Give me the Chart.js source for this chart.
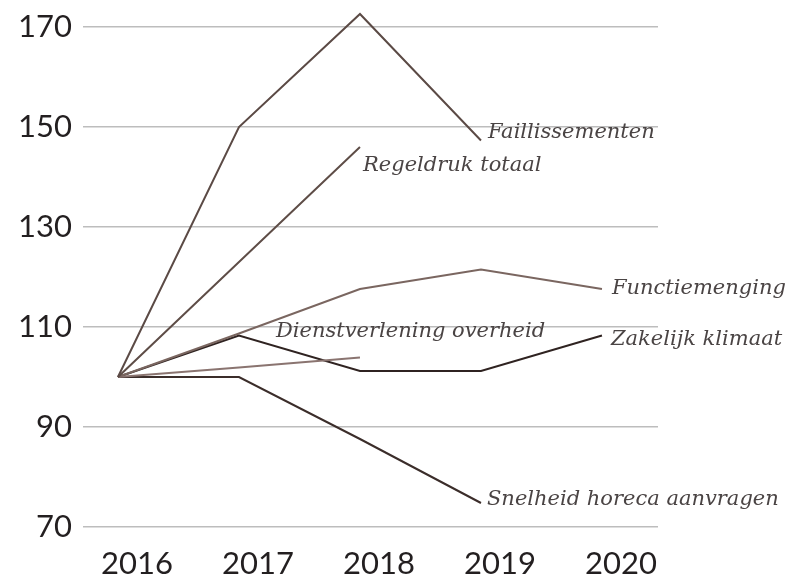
<!DOCTYPE html>
<html>
<head>
<meta charset="utf-8">
<script src="https://cdn.jsdelivr.net/npm/chart.js@4.4.1/dist/chart.umd.min.js"></script>
<style>
  html, body { margin: 0; padding: 0; background: #fff; }
  #wrap { width: 805px; height: 581px; }
</style>
</head>
<body>
<div id="wrap"><canvas id="chart" width="805" height="581"></canvas></div>
<script>
"use strict";

// Years on the x axis
const years = [2016, 2017, 2018, 2019, 2020];

// Y axis tick values
const yTicks = [70, 90, 110, 130, 150, 170];

// Index values per series (null = no data)
const faillissementen = [100, 150, 172.6, 147.3, null];
const regeldrukTotaal = [100, 123, 146, null, null];
const functiemenging = [100, 108.7, 117.6, 121.5, 117.6];
const dienstverlening = [100, 101.9, 103.9, null, null];
const zakelijkKlimaat = [100, 108.3, 101.2, 101.2, 108.3];
const snelheidHoreca = [100, 100, 87.6, 74.8, null];

const seriesNames = [
  "Faillissementen",
  "Regeldruk totaal",
  "Functiemenging",
  "Dienstverlening overheid",
  "Zakelijk klimaat",
  "Snelheid horeca aanvragen",
];
const seriesValues = [
  faillissementen,
  regeldrukTotaal,
  functiemenging,
  dienstverlening,
  zakelijkKlimaat,
  snelheidHoreca,
];

// Styling per series: line colour and label offset from the last point
const seriesStyle = [
  { color: "#5b4a45", dx: 7, dy: -8 },
  { color: "#5e4d47", dx: 3, dy: 19 },
  { color: "#7a6660", dx: 10, dy: 0 },
  { color: "#8a7470", dx: -84, dy: -26 },
  { color: "#2f2321", dx: 9, dy: 4 },
  { color: "#3b2d2a", dx: 6, dy: -3 },
];

// Draw series names next to the last point of each line
const endLabels = {
  id: "endLabels",
  afterDatasetsDraw(chart) {
    const ctx = chart.ctx;
    ctx.save();
    ctx.font = "italic 21px 'DejaVu Serif'";
    ctx.fillStyle = "#4a4444";
    ctx.textAlign = "left";
    ctx.textBaseline = "middle";
    chart.data.datasets.forEach((ds, i) => {
      const meta = chart.getDatasetMeta(i);
      let last = -1;
      ds.data.forEach((p, j) => {
        if (p.y != null) last = j;
      });
      if (last < 0) return;
      const pt = meta.data[last];
      const st = seriesStyle[i];
      ctx.fillText(ds.label, pt.x + st.dx, pt.y + st.dy);
    });
    ctx.restore();
  },
};

const datasets = seriesNames.map((name, i) => ({
  label: name,
  data: years.map((yr, j) => ({ x: yr, y: seriesValues[i][j] })),
  borderColor: seriesStyle[i].color,
  backgroundColor: "transparent",
  borderWidth: 2,
  pointRadius: 0,
  tension: 0,
  spanGaps: false,
}));

new Chart(document.getElementById("chart"), {
  type: "line",
  data: { datasets },
  plugins: [endLabels],
  options: {
    responsive: false,
    animation: false,
    layout: { padding: { top: 2, right: 147, left: 0, bottom: 0 } },
    plugins: {
      legend: { display: false },
      tooltip: { enabled: false },
    },
    scales: {
      x: {
        type: "linear",
        min: 2015.711,
        max: 2020.463,
        afterBuildTicks: (scale) => {
          scale.ticks = years.map((v) => ({ value: v }));
        },
        afterFit: (scale) => {
          scale.height = 54;
          scale.paddingLeft = 0;
          scale.paddingRight = 0;
        },
        grid: { display: false, drawTicks: false },
        border: { display: false },
        ticks: {
          padding: 18,
          labelOffset: 19,
          color: "#231f20",
          font: { family: "Lato", size: 31 },
          callback: (v) => String(v),
        },
      },
      y: {
        min: 70,
        max: 175,
        afterBuildTicks: (scale) => {
          scale.ticks = yTicks.map((v) => ({ value: v }));
        },
        afterFit: (scale) => {
          scale.width = 83;
          scale.paddingTop = 0;
          scale.paddingBottom = 0;
        },
        grid: { color: "#bdbdbd", lineWidth: 1.5, drawTicks: false },
        border: { display: false },
        ticks: {
          padding: 11,
          color: "#231f20",
          font: { family: "Lato", size: 31 },
        },
      },
    },
  },
});
</script>
</body>
</html>
